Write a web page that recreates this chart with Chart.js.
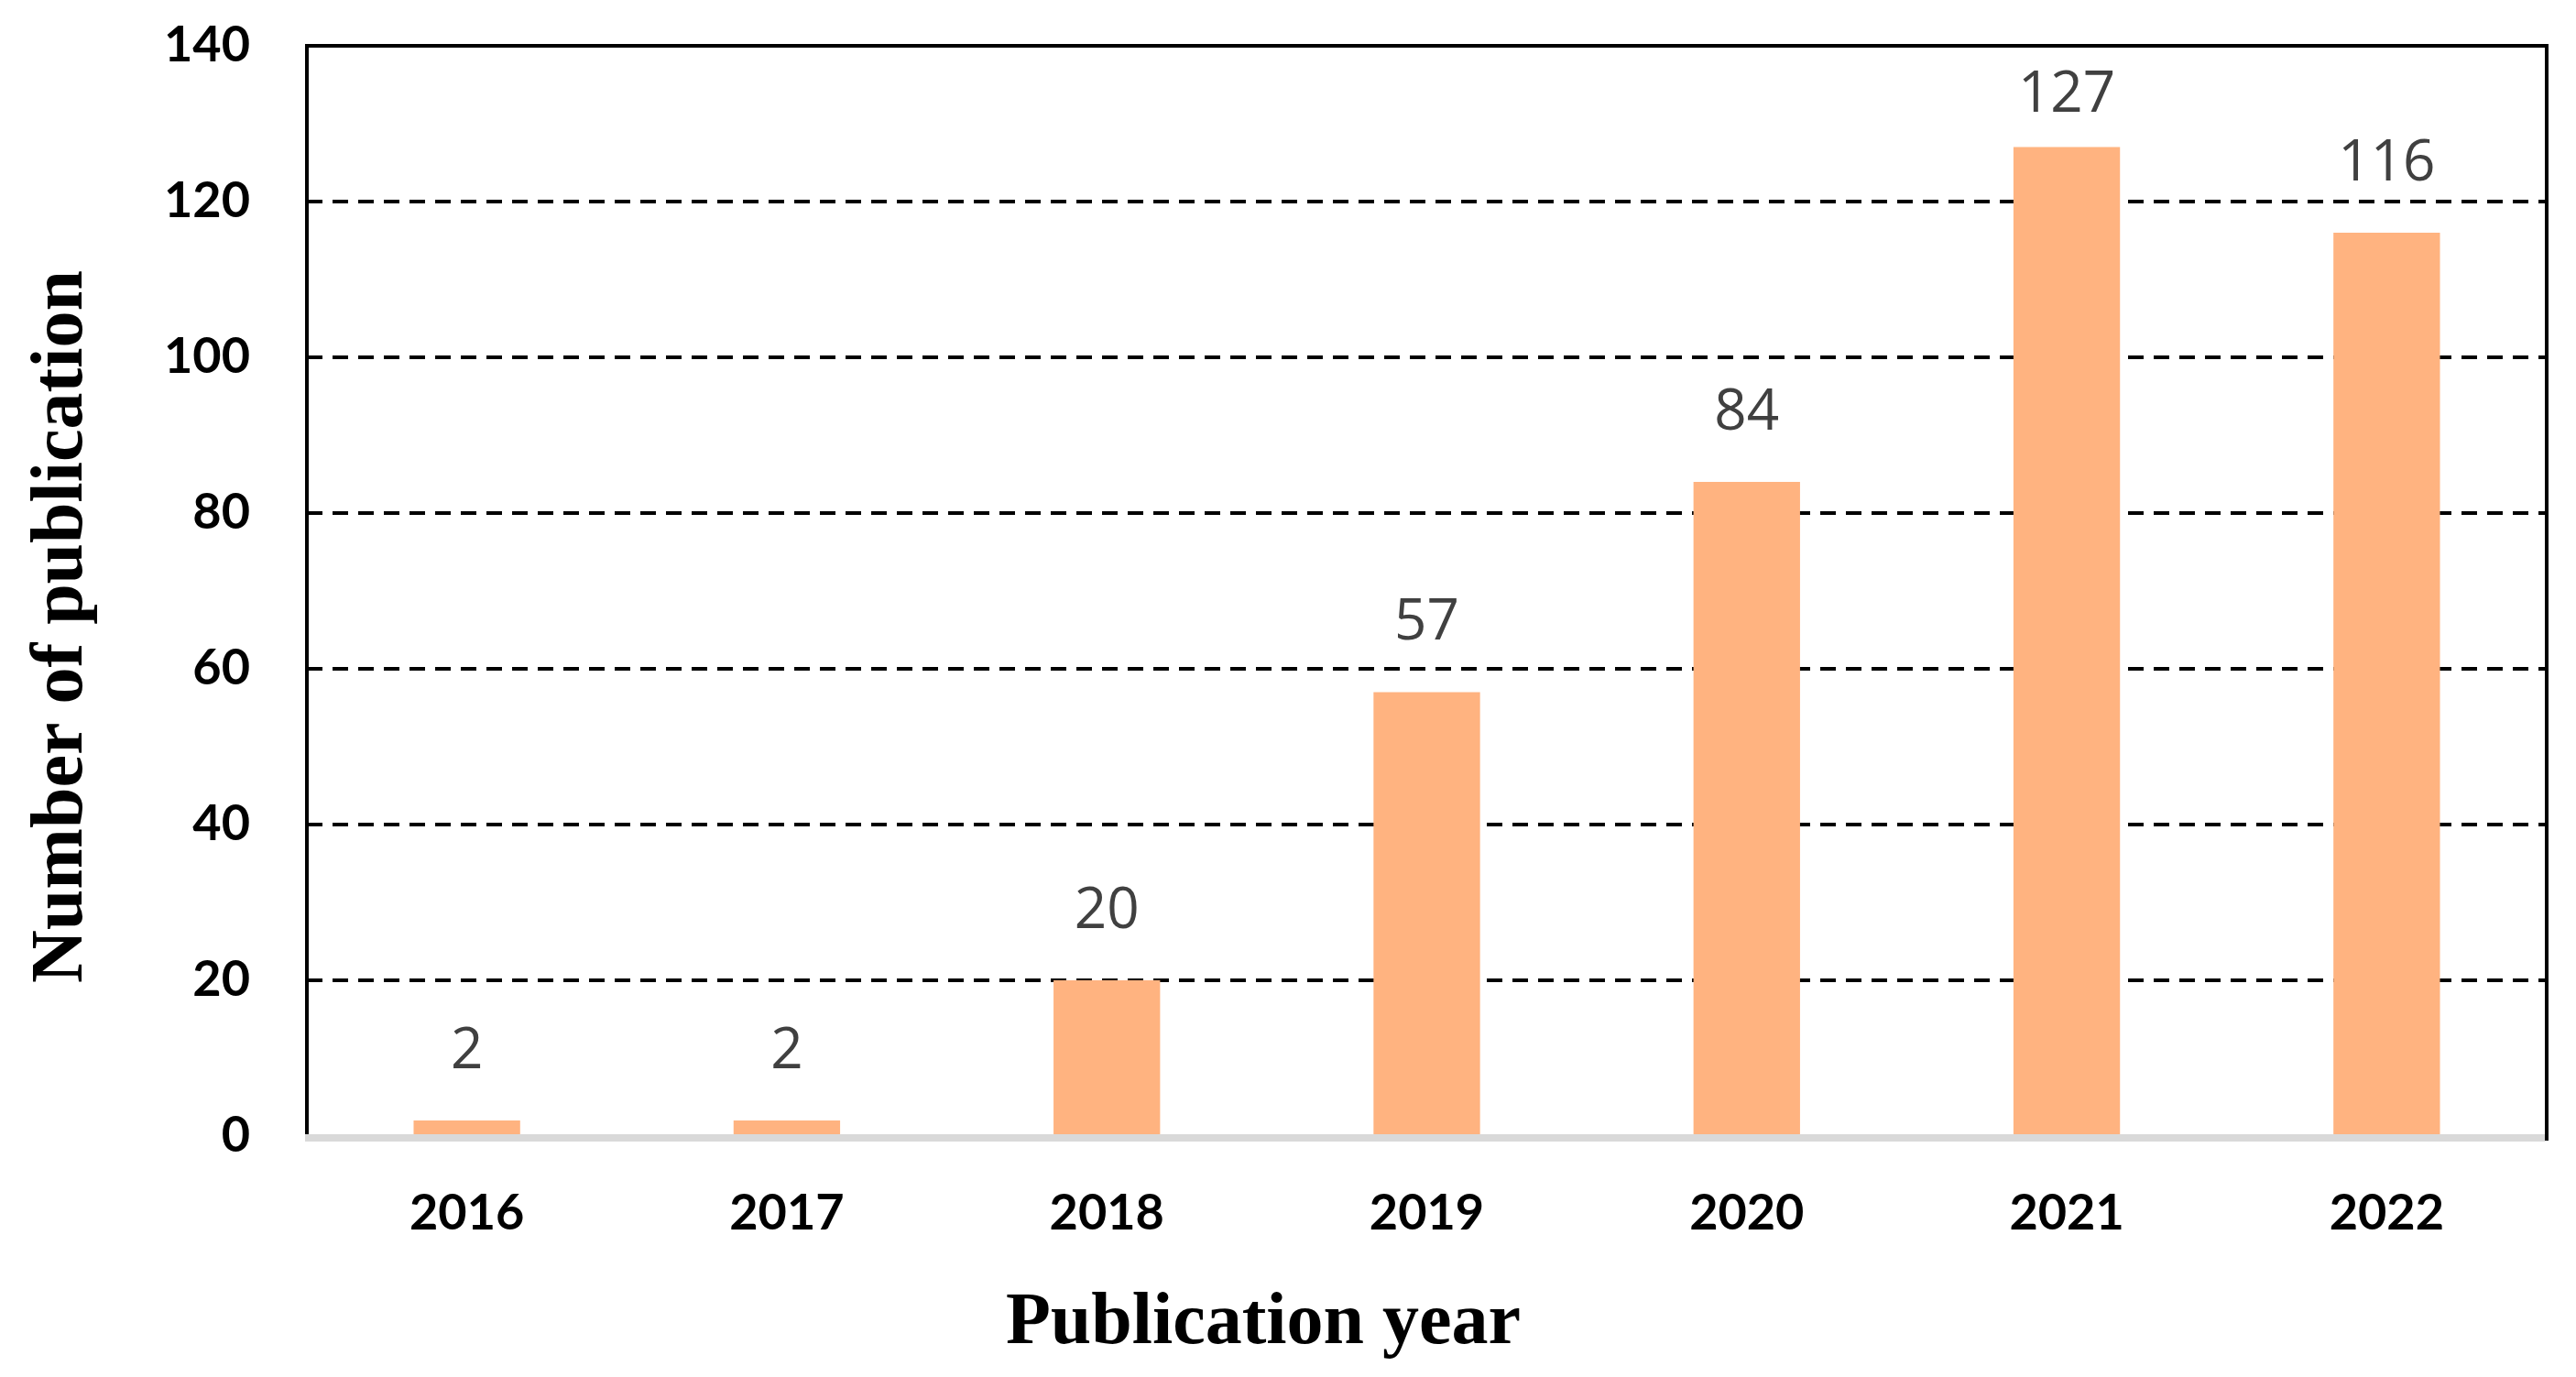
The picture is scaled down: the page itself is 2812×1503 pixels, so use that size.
<!DOCTYPE html>
<html>
<head>
<meta charset="utf-8">
<script src="https://cdn.jsdelivr.net/npm/chart.js@4/dist/chart.umd.min.js"></script>
<style>
  html, body { margin: 0; padding: 0; background: #ffffff; }
  #wrap { width: 2812px; height: 1503px; position: relative; }
  canvas { display: block; }
</style>
</head>
<body>
<div id="wrap"><canvas id="c" width="2812" height="1503"></canvas></div>
<script>
// ---- Data ----
const categories = ["2016", "2017", "2018", "2019", "2020", "2021", "2022"];
const publications = [2, 2, 20, 57, 84, 127, 116];
const yTickValues = [0, 20, 40, 60, 80, 100, 120, 140];
const xTitle = "Publication year";
const yTitle = "Number of publication";

const barColor = "#FFB380";

const frameAndLabels = {
  id: 'frameAndLabels',
  afterDatasetsDraw(chart) {
    const { ctx, chartArea } = chart;
    const { left, right, top, bottom } = chartArea;
    ctx.save();
    // value labels
    ctx.font = '62px "Open Sans"';
    ctx.fillStyle = '#404040';
    ctx.textAlign = 'center';
    ctx.textBaseline = 'middle';
    const meta = chart.getDatasetMeta(0);
    meta.data.forEach((bar, i) => {
      const y = Math.max(bar.y - 75, top + 54);
      ctx.fillText(String(publications[i]), bar.x, y);
    });
    // frame: top, left, right black; bottom gray
    ctx.strokeStyle = '#000000';
    ctx.lineWidth = 4;
    ctx.beginPath();
    ctx.moveTo(left, bottom);
    ctx.lineTo(left, top);
    ctx.lineTo(right, top);
    ctx.lineTo(right, bottom + 5);
    ctx.stroke();
    ctx.strokeStyle = '#D9D9D9';
    ctx.lineWidth = 8;
    ctx.beginPath();
    ctx.moveTo(left - 2, bottom + 2);
    ctx.lineTo(right - 2, bottom + 2);
    ctx.stroke();
    ctx.restore();
  },
  afterDraw(chart) {
    const { ctx, chartArea } = chart;
    ctx.save();
    ctx.fillStyle = '#000000';
    ctx.font = 'bold 80px "Liberation Serif"';
    ctx.textAlign = 'center';
    ctx.textBaseline = 'middle';
    ctx.fillText(xTitle, chartArea.left + 1044, 1445);
    ctx.translate(68, chartArea.top + 634);
    ctx.rotate(-Math.PI / 2);
    ctx.fillText(yTitle, 0, 0);
    ctx.restore();
  }
};

new Chart(document.getElementById('c'), {
  type: 'bar',
  data: {
    labels: categories,
    datasets: [{
      data: publications,
      backgroundColor: barColor,
      borderWidth: 0,
      categoryPercentage: 1.0,
      barPercentage: 0.333
    }]
  },
  options: {
    responsive: false,
    animation: false,
    events: [],
    layout: { padding: { top: 50, right: 32, left: 0, bottom: 0 } },
    plugins: {
      legend: { display: false },
      tooltip: { enabled: false },
      title: { display: false }
    },
    scales: {
      x: {
        grid: { display: false, drawTicks: false },
        border: { display: false },
        ticks: {
          font: { family: 'Lato', weight: 'bold', size: 54 },
          color: '#000000',
          padding: 52
        },
        afterFit(scale) {
          scale.height = 1503 - 1240;
          scale.paddingLeft = 0;
          scale.paddingRight = 0;
        }
      },
      y: {
        min: 0,
        max: 140,
        afterBuildTicks(scale) { scale.ticks = yTickValues.map(v => ({ value: v })); },
        grid: {
          drawTicks: false,
          lineWidth: 4,
          color: (c) => (c.tick && (c.tick.value === 0 || c.tick.value === 140)) ? 'rgba(0,0,0,0)' : '#000000'
        },
        border: { display: false, dash: [17, 11] },
        ticks: {
          font: { family: 'Lato', weight: 'bold', size: 54 },
          color: '#000000',
          padding: 62
        },
        afterFit(scale) {
          scale.width = 335;
          scale.paddingTop = 0;
          scale.paddingBottom = 0;
        }
      }
    }
  },
  plugins: [frameAndLabels]
});
</script>
</body>
</html>
